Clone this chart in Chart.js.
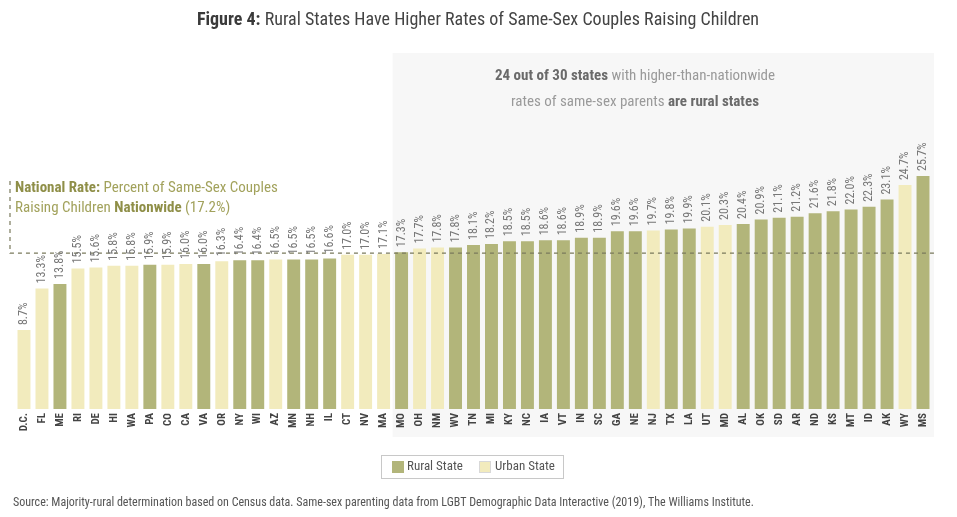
<!DOCTYPE html>
<html>
<head>
<meta charset="utf-8">
<script src="https://cdn.jsdelivr.net/npm/chart.js@4/dist/chart.umd.min.js"></script>
<style>
  html, body { margin: 0; padding: 0; background: #fff; }
  #wrap { width: 957px; height: 517px; position: relative; }
</style>
</head>
<body>
<div id="wrap"><canvas id="chart" width="957" height="517"></canvas></div>
<script>
// chart data
const states = ['D.C.', 'FL', 'ME', 'RI', 'DE', 'HI', 'WA', 'PA', 'CO', 'CA', 'VA', 'OR', 'NY', 'WI', 'AZ', 'MN', 'NH', 'IL',
    'CT', 'NV', 'MA', 'MO', 'OH', 'NM', 'WV', 'TN', 'MI', 'KY', 'NC', 'IA', 'VT', 'IN', 'SC', 'GA', 'NE', 'NJ', 'TX', 'LA',
    'UT', 'MD', 'AL', 'OK', 'SD', 'AR', 'ND', 'KS', 'MT', 'ID', 'AK', 'WY', 'MS'];
const rates = [8.7, 13.3, 13.8, 15.5, 15.6, 15.8, 15.8, 15.9, 15.9, 16.0, 16.0, 16.3, 16.4, 16.4, 16.5, 16.5, 16.5, 16.6,
    17.0, 17.0, 17.1, 17.3, 17.7, 17.8, 17.8, 18.1, 18.2, 18.5, 18.5, 18.6, 18.6, 18.9, 18.9, 19.6, 19.6, 19.7, 19.8, 19.9,
    20.1, 20.3, 20.4, 20.9, 21.1, 21.2, 21.6, 21.8, 22.0, 22.3, 23.1, 24.7, 25.7];
// R = rural state, U = urban state
const stateType = ['U', 'U', 'R', 'U', 'U', 'U', 'U', 'R', 'U', 'U', 'R', 'U', 'R', 'R', 'U', 'R', 'R', 'R',
    'U', 'U', 'U', 'R', 'U', 'U', 'R', 'R', 'R', 'R', 'R', 'R', 'R', 'R', 'R', 'R', 'R', 'U', 'R', 'R',
    'U', 'U', 'R', 'R', 'R', 'R', 'R', 'R', 'R', 'R', 'R', 'U', 'R'];
const nationalRate = 17.2;
const firstAboveNational = 21; // MO, first of the 30 states above the national rate

const RURAL = '#b2b57a';
const URBAN = '#f2ebbd';
const FONT = '"Roboto Condensed", "Liberation Sans Narrow", "DejaVu Sans Condensed", Roboto, sans-serif';

// draws a line of text made of [text, bold, colour] runs
function drawRuns(ctx, runs, x, y, size, align) {
    let total = 0;
    runs.forEach(r => {
        ctx.font = (r[1] ? 'bold ' : '') + size + 'px ' + FONT;
        total += ctx.measureText(r[0]).width;
    });
    let cx = align === 'center' ? x - total / 2 : x;
    ctx.textAlign = 'left';
    ctx.textBaseline = 'middle';
    runs.forEach(r => {
        ctx.font = (r[1] ? 'bold ' : '') + size + 'px ' + FONT;
        ctx.fillStyle = r[2];
        ctx.fillText(r[0], cx, y);
        cx += ctx.measureText(r[0]).width;
    });
}

const decorPlugin = {
    id: 'decor',
    beforeDraw(chart) {
        const ctx = chart.ctx;
        const x = chart.scales.x;
        const area = chart.chartArea;
        ctx.save();
        ctx.fillStyle = '#fff';
        ctx.fillRect(0, 0, chart.width, chart.height);
        // grey panel behind the above-national states
        const left = x.getPixelForValue(firstAboveNational - 0.5);
        ctx.fillStyle = '#f7f7f7';
        ctx.fillRect(left, 53, area.right + 2 - left, 437 - 53);
        ctx.restore();
    },
    afterDatasetsDraw(chart) {
        const ctx = chart.ctx;
        const x = chart.scales.x;
        const y = chart.scales.y;
        ctx.save();

        // national rate dashed line (over the bars, under the labels)
        const ny = y.getPixelForValue(nationalRate);
        ctx.strokeStyle = '#7a7a5c';
        ctx.lineWidth = 1.2;
        ctx.setLineDash([4, 4]);
        ctx.beginPath();
        ctx.moveTo(10, 181);
        ctx.lineTo(10, ny);
        ctx.lineTo(chart.chartArea.right + 5, ny);
        ctx.stroke();
        ctx.setLineDash([]);

        // value labels above bars
        ctx.font = '12px ' + FONT;
        ctx.fillStyle = '#777';
        ctx.textAlign = 'left';
        ctx.textBaseline = 'middle';
        rates.forEach((v, i) => {
            ctx.save();
            ctx.translate(x.getPixelForValue(i), y.getPixelForValue(v) - 5);
            ctx.rotate(-Math.PI / 2);
            ctx.fillText(v.toFixed(1) + '%', 0, 0);
            ctx.restore();
        });

        // annotation for the national rate
        drawRuns(ctx, [['National Rate: ', true, '#8f8f48'], ['Percent of Same-Sex Couples', false, '#a2a25c']], 15, 188, 15, 'left');
        drawRuns(ctx, [['Raising Children ', false, '#a2a25c'], ['Nationwide', true, '#8f8f48'], [' (17.2%)', false, '#a2a25c']], 15, 208, 15, 'left');

        // panel text
        drawRuns(ctx, [['24 out of 30 states', true, '#6a6a6a'], [' with higher-than-nationwide', false, '#9a9a9a']], 635, 76, 15, 'center');
        drawRuns(ctx, [['rates of same-sex parents ', false, '#9a9a9a'], ['are rural states', true, '#6a6a6a']], 635, 102, 15, 'center');

        // title
        drawRuns(ctx, [['Figure 4:', true, '#3a3a3a'], [' Rural States Have Higher Rates of Same-Sex Couples Raising Children', false, '#444']], 478, 20, 18, 'center');

        // legend
        ctx.strokeStyle = '#c8c8c8';
        ctx.lineWidth = 1;
        ctx.strokeRect(381.5, 455.5, 182, 23);
        ctx.fillStyle = RURAL;
        ctx.fillRect(392, 461, 12, 12);
        ctx.strokeStyle = '#d8d8d8';
        ctx.fillStyle = URBAN;
        ctx.fillRect(479, 461, 12, 12);
        ctx.strokeRect(479.5, 461.5, 11, 11);
        drawRuns(ctx, [['Rural State', false, '#555']], 407, 467, 13, 'left');
        drawRuns(ctx, [['Urban State', false, '#555']], 495, 467, 13, 'left');

        // source
        drawRuns(ctx, [['Source: Majority-rural determination based on Census data. Same-sex parenting data from LGBT Demographic Data Interactive (2019), The Williams Institute.', false, '#555']], 13, 503, 12, 'left');

        ctx.restore();
    }
};

const ruralData = rates.map((v, i) => stateType[i] === 'R' ? v : null);
const urbanData = rates.map((v, i) => stateType[i] === 'U' ? v : null);

new Chart(document.getElementById('chart'), {
    type: 'bar',
    data: {
        labels: states,
        datasets: [
            { label: 'Rural State', data: ruralData, backgroundColor: RURAL },
            { label: 'Urban State', data: urbanData, backgroundColor: URBAN }
        ]
    },
    options: {
        responsive: false,
        animation: false,
        layout: { padding: { top: 137, left: 15, right: 25, bottom: 78 } },
        plugins: {
            legend: { display: false },
            tooltip: { enabled: false }
        },
        scales: {
            x: {
                stacked: true,
                grid: { display: false, drawTicks: false },
                border: { display: false },
                ticks: {
                    minRotation: 90,
                    maxRotation: 90,
                    padding: 4,
                    color: '#444',
                    font: { family: FONT, size: 11, weight: 'bold' }
                },
                afterFit(scale) { scale.height = 30; }
            },
            y: {
                stacked: true,
                display: false,
                min: 0,
                max: 30
            }
        }
    },
    plugins: [decorPlugin]
});
</script>
</body>
</html>
